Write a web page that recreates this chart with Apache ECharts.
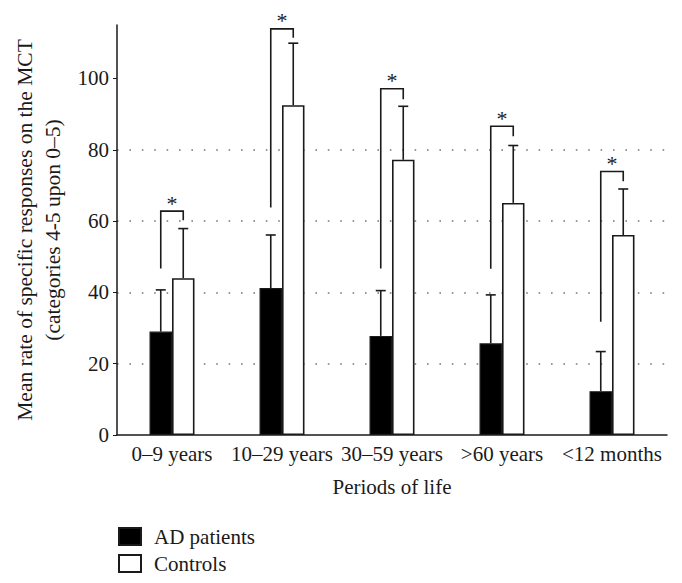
<!DOCTYPE html>
<html>
<head>
<meta charset="utf-8">
<script src="https://cdn.jsdelivr.net/npm/echarts@6/dist/echarts.min.js"></script>
<style>
  html, body { margin: 0; padding: 0; background: #fff; }
  #chart { width: 682px; height: 583px; }
</style>
</head>
<body>
<div id="chart"></div>
<script>
(function() {
  var font = 'Liberation Serif';
  var ink = '#1a1a1a';

  var periods = ['0\u20139 years', '10\u201329 years', '30\u201359 years', '>60 years', '<12 months'];
  var adMean = [29.0, 41.2, 27.8, 25.7, 12.3];
  var adUpper = [40.7, 56.1, 40.5, 39.3, 23.4];
  var ctrlMean = [44.0, 92.5, 77.2, 65.1, 56.1];
  var ctrlUpper = [57.9, 109.9, 92.2, 81.2, 69.0];
  // significance brackets: left foot, top, right foot
  var brLeft = [46.7, 63.8, 46.7, 46.6, 31.8];
  var brTop = [62.8, 113.9, 97.1, 86.6, 73.9];
  var brRight = [60.2, 111.4, 94.2, 83.8, 71.2];
  var yTicks = [0, 20, 40, 60, 80, 100];

  var barW = 22.5;
  var fs = 21;

  var errData = [];
  var brData = [];
  for (var i = 0; i < periods.length; i++) {
    errData.push([i, adUpper[i], adMean[i], -1]);
    errData.push([i, ctrlUpper[i], ctrlMean[i], 1]);
    brData.push([i, brLeft[i], brTop[i], brRight[i]]);
  }

  var chart = echarts.init(document.getElementById('chart'), null, { renderer: 'svg' });
  chart.setOption({
    animation: false,
    textStyle: { fontFamily: font, color: ink },
    grid: { left: 117, right: 15, top: 25, bottom: 148 },
    legend: {
      orient: 'vertical',
      left: 118,
      top: 526,
      height: 120,
      padding: 0,
      itemWidth: 22,
      itemHeight: 17,
      itemGap: 6,
      icon: 'rect',
      formatter: function(name) { return '{t|' + name + '}'; },
      textStyle: {
        fontFamily: font, fontSize: fs, color: ink,
        rich: { t: { fontFamily: font, fontSize: fs, color: ink, padding: [0, 0, 0, 8] } }
      },
      data: ['AD patients', 'Controls']
    },
    xAxis: {
      type: 'category',
      data: periods,
      name: 'Periods of life',
      nameLocation: 'middle',
      nameGap: 41,
      nameTextStyle: { fontFamily: font, fontSize: fs, color: ink },
      axisLine: { lineStyle: { color: ink, width: 1.5 } },
      axisTick: { show: false },
      axisLabel: { fontFamily: font, fontSize: fs, color: ink, margin: 8, interval: 0 }
    },
    yAxis: {
      type: 'value',
      min: 0,
      max: 115,
      interval: 20,
      name: 'Mean rate of specific responses on the MCT\n(categories 4-5 upon 0\u20135)',
      nameLocation: 'middle',
      nameRotate: 90,
      nameGap: 47,
      nameTextStyle: { fontFamily: font, fontSize: 21.5, color: ink, lineHeight: 28 },
      axisLine: { show: true, lineStyle: { color: ink, width: 1.5 } },
      axisTick: { show: true, length: 4, customValues: yTicks, lineStyle: { color: ink } },
      axisLabel: { fontFamily: font, fontSize: fs, color: ink, margin: 8, customValues: yTicks },
      splitLine: {
        show: true,
        showMinLine: false,
        showMaxLine: false,
        lineStyle: { color: '#777', width: 1.6, type: [1.6, 10.8] }
      }
    },
    series: [
      {
        name: 'AD patients',
        type: 'bar',
        data: adMean,
        barWidth: barW,
        barGap: '0%',
        itemStyle: { color: '#000', borderColor: ink, borderWidth: 1.2 }
      },
      {
        name: 'Controls',
        type: 'bar',
        data: ctrlMean,
        barWidth: barW,
        barGap: '0%',
        itemStyle: { color: '#fff', borderColor: ink, borderWidth: 1.6 }
      },
      {
        type: 'custom',
        name: 'err',
        data: errData,
        z: 5,
        renderItem: function(params, api) {
          var c = api.value(0);
          var side = api.value(3);
          var top = api.coord([c, api.value(1)]);
          var base = api.coord([c, api.value(2)]);
          var x = top[0] + side * barW / 2;
          var cap = 5;
          return {
            type: 'group',
            children: [
              { type: 'line', shape: { x1: x, y1: base[1], x2: x, y2: top[1] }, style: { stroke: ink, lineWidth: 1.6 } },
              { type: 'line', shape: { x1: x - cap, y1: top[1], x2: x + cap, y2: top[1] }, style: { stroke: ink, lineWidth: 1.6 } }
            ]
          };
        }
      },
      {
        type: 'custom',
        name: 'sig',
        data: brData,
        z: 5,
        renderItem: function(params, api) {
          var c = api.value(0);
          var pl = api.coord([c, api.value(1)]);
          var pt = api.coord([c, api.value(2)]);
          var pr = api.coord([c, api.value(3)]);
          var xl = pl[0] - barW / 2;
          var xr = pl[0] + barW / 2;
          return {
            type: 'group',
            children: [
              {
                type: 'polyline',
                shape: { points: [[xl, pl[1]], [xl, pt[1]], [xr, pt[1]], [xr, pr[1]]] },
                style: { stroke: ink, lineWidth: 1.6, fill: null }
              },
              {
                type: 'text',
                style: {
                  x: pl[0], y: pt[1] - 8, text: '*',
                  font: '22px "Liberation Serif"', fill: ink,
                  align: 'center', verticalAlign: 'middle'
                }
              }
            ]
          };
        }
      }
    ]
  });
  window.addEventListener('resize', function() { chart.resize(); });
})();
</script>
</body>
</html>
